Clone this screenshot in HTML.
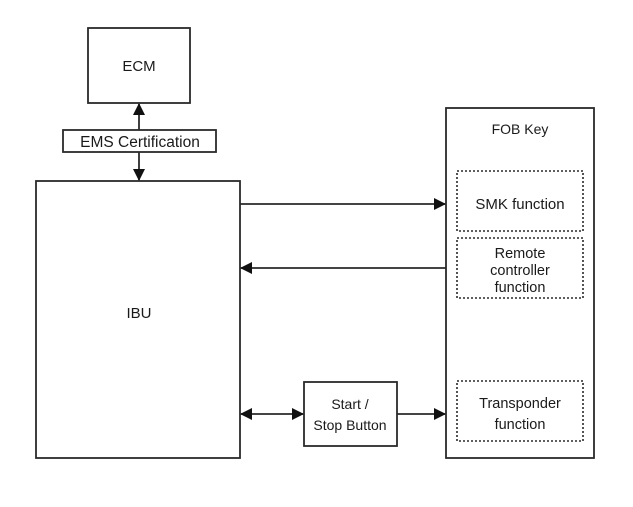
<!DOCTYPE html>
<html><head><style>body{margin:0;background:#fff}svg{display:block}text{font-family:"Liberation Sans",sans-serif;fill:#1a1a1a;text-anchor:middle}</style></head>
<body>
<svg width="633" height="507" viewBox="0 0 633 507" xmlns="http://www.w3.org/2000/svg">
<defs>
<marker id="a" markerWidth="12" markerHeight="12" refX="11" refY="6" orient="auto" markerUnits="userSpaceOnUse"><path d="M0,0 L12,6 L0,12 z" fill="#111"/></marker>
<marker id="s" markerWidth="12" markerHeight="12" refX="1" refY="6" orient="auto" markerUnits="userSpaceOnUse"><path d="M12,0 L0,6 L12,12 z" fill="#111"/></marker>
</defs>
<g fill="none" stroke="#2a2a2a" stroke-width="1.8">
<rect x="88" y="28" width="102" height="75"/>
<rect x="63" y="130" width="153" height="22"/>
<rect x="36" y="181" width="204" height="277"/>
<rect x="446" y="108" width="148" height="350"/>
<rect x="304" y="382" width="93" height="64"/>
<g stroke-dasharray="2,2" stroke-width="1.6">
<rect x="457" y="171" width="126" height="60"/>
<rect x="457" y="238" width="126" height="60"/>
<rect x="457" y="381" width="126" height="60"/>
</g>
<line x1="139" y1="130" x2="139" y2="104" marker-end="url(#a)"/>
<line x1="139" y1="152" x2="139" y2="180" marker-end="url(#a)"/>
<line x1="240" y1="204" x2="445" y2="204" marker-end="url(#a)"/>
<line x1="446" y1="268" x2="241" y2="268" marker-end="url(#a)"/>
<line x1="241" y1="414" x2="303" y2="414" marker-start="url(#s)" marker-end="url(#a)"/>
<line x1="397" y1="414" x2="445" y2="414" marker-end="url(#a)"/>
</g>
<text x="139" y="71" font-size="15">ECM</text>
<text x="140" y="147" font-size="15.5">EMS Certification</text>
<text x="139" y="318" font-size="15">IBU</text>
<text x="520" y="134" font-size="14">FOB Key</text>
<text x="520" y="209" font-size="15">SMK function</text>
<text x="520" y="258" font-size="14.5">Remote</text>
<text x="520" y="275" font-size="14.5">controller</text>
<text x="520" y="292" font-size="14.5">function</text>
<text x="520" y="408" font-size="14.5">Transponder</text>
<text x="520" y="429" font-size="14.5">function</text>
<text x="350" y="409" font-size="14">Start /</text>
<text x="350" y="430" font-size="14">Stop Button</text>
</svg>
</body></html>
